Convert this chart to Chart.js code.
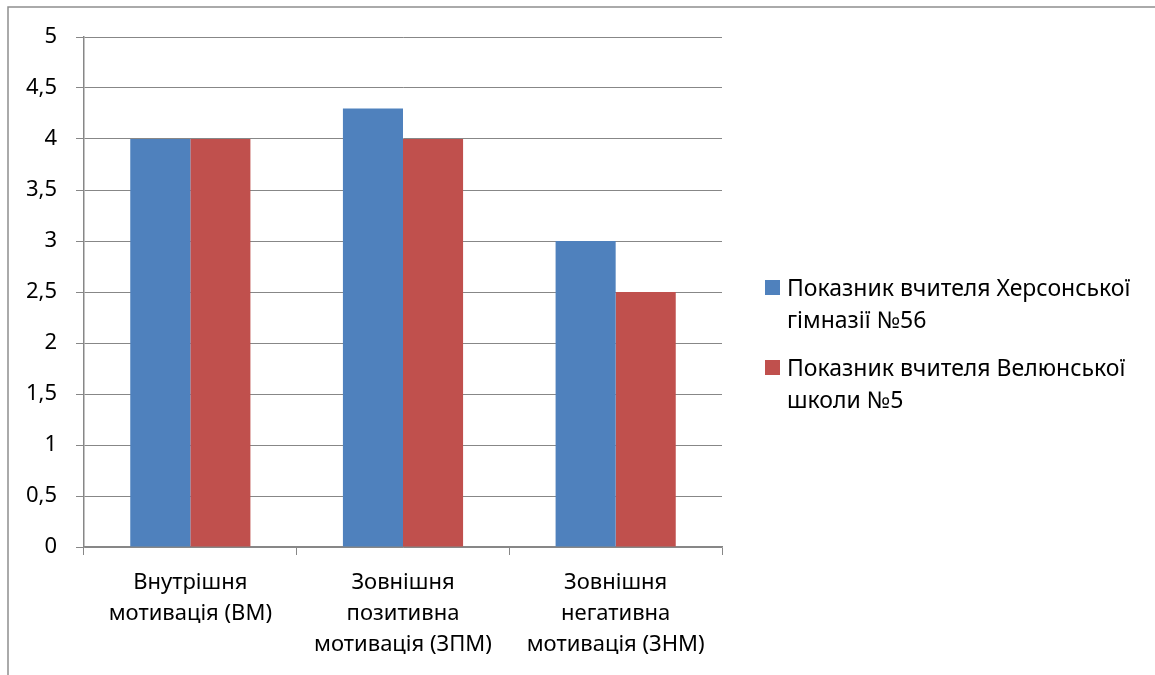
<!DOCTYPE html>
<html>
<head>
<meta charset="utf-8">
<script src="https://cdn.jsdelivr.net/npm/chart.js@4.4.1/dist/chart.umd.min.js"></script>
<style>
  html, body { margin: 0; padding: 0; background: #ffffff; }
  #wrap { width: 1155px; height: 675px; }
  canvas { display: block; }
</style>
</head>
<body>
<div id="wrap"><canvas id="chart" width="1155" height="675"></canvas></div>
<script>
// Categories (multi-line axis labels)
const categories = [
  ['Внутрішня', 'мотивація (ВМ)'],
  ['Зовнішня', 'позитивна', 'мотивація (ЗПМ)'],
  ['Зовнішня', 'негативна', 'мотивація (ЗНМ)']
];

// Series names (wrapped into two lines in the legend)
const seriesKherson = ['Показник вчителя Херсонської', 'гімназії №56'];
const seriesVelun = ['Показник вчителя Велюнської', 'школи №5'];

// Series values
const khersonValues = [4, 4.3, 3];
const velunValues = [4, 4, 2.5];

// Value axis tick labels (decimal comma)
const yTickLabels = ['0', '0,5', '1', '1,5', '2', '2,5', '3', '3,5', '4', '4,5', '5'];

const FONT = '"Noto Sans", "Open Sans", sans-serif';
const FONT_SIZE = 22;
const LEGEND_FONT_SIZE = 23;
const GRID = '#878787';
const BLUE = '#4F81BD';
const RED = '#C0504D';

// Outer chart frame (left and top edges)
const framePlugin = {
  id: 'frame',
  beforeDraw(chart) {
    const ctx = chart.ctx;
    ctx.save();
    ctx.fillStyle = '#ffffff';
    ctx.fillRect(0, 0, chart.width, chart.height);
    ctx.strokeStyle = '#8f8f8f';
    ctx.lineWidth = 1.5;
    ctx.beginPath();
    ctx.moveTo(8, chart.height);
    ctx.lineTo(8, 7);
    ctx.lineTo(chart.width, 7);
    ctx.stroke();
    ctx.restore();
  }
};

// Legend on the right with wrapped series names
const sideLegend = {
  id: 'sideLegend',
  afterDraw(chart) {
    const ctx = chart.ctx;
    ctx.save();
    ctx.font = LEGEND_FONT_SIZE + 'px ' + FONT;
    ctx.textBaseline = 'alphabetic';
    ctx.textAlign = 'left';
    chart.data.datasets.forEach((ds, i) => {
      const top = 280 + i * 80;
      ctx.fillStyle = ds.backgroundColor;
      ctx.fillRect(765, top, 15, 15);
      ctx.fillStyle = '#000000';
      ds.legendLines.forEach((line, j) => {
        ctx.fillText(line, 787, top + 16 + j * 32);
      });
    });
    ctx.restore();
  }
};

new Chart(document.getElementById('chart'), {
  type: 'bar',
  data: {
    labels: categories,
    datasets: [
      {
        label: seriesKherson.join(' '),
        legendLines: seriesKherson,
        data: khersonValues,
        backgroundColor: BLUE,
        borderWidth: 0,
        categoryPercentage: 0.565,
        barPercentage: 1.0
      },
      {
        label: seriesVelun.join(' '),
        legendLines: seriesVelun,
        data: velunValues,
        backgroundColor: RED,
        borderWidth: 0,
        categoryPercentage: 0.565,
        barPercentage: 1.0
      }
    ]
  },
  options: {
    responsive: false,
    animation: false,
    devicePixelRatio: 1,
    layout: { padding: { left: 0, top: 37, right: 433, bottom: 0 } },
    plugins: {
      legend: { display: false },
      tooltip: { enabled: false },
      title: { display: false }
    },
    scales: {
      x: {
        afterFit(scale) { scale.height = 128; },
        grid: {
          display: true,
          offset: true,
          drawOnChartArea: false,
          drawTicks: true,
          tickLength: 8,
          color: GRID,
          lineWidth: 1
        },
        border: { display: true, color: GRID, width: 1.5 },
        ticks: {
          color: '#000000',
          padding: 12,
          maxRotation: 0,
          autoSkip: false,
          font: { family: FONT, size: FONT_SIZE, lineHeight: 31 / FONT_SIZE }
        }
      },
      y: {
        min: 0,
        max: 5,
        afterFit(scale) { scale.width = 84; },
        grid: {
          display: true,
          drawTicks: true,
          tickLength: 8,
          color: GRID,
          lineWidth: 1
        },
        border: { display: true, color: GRID, width: 1.5 },
        ticks: {
          stepSize: 0.5,
          color: '#000000',
          padding: 19,
          font: { family: FONT, size: FONT_SIZE },
          callback: (value) => yTickLabels[Math.round(value / 0.5)]
        }
      }
    }
  },
  plugins: [framePlugin, sideLegend]
});
</script>
</body>
</html>
